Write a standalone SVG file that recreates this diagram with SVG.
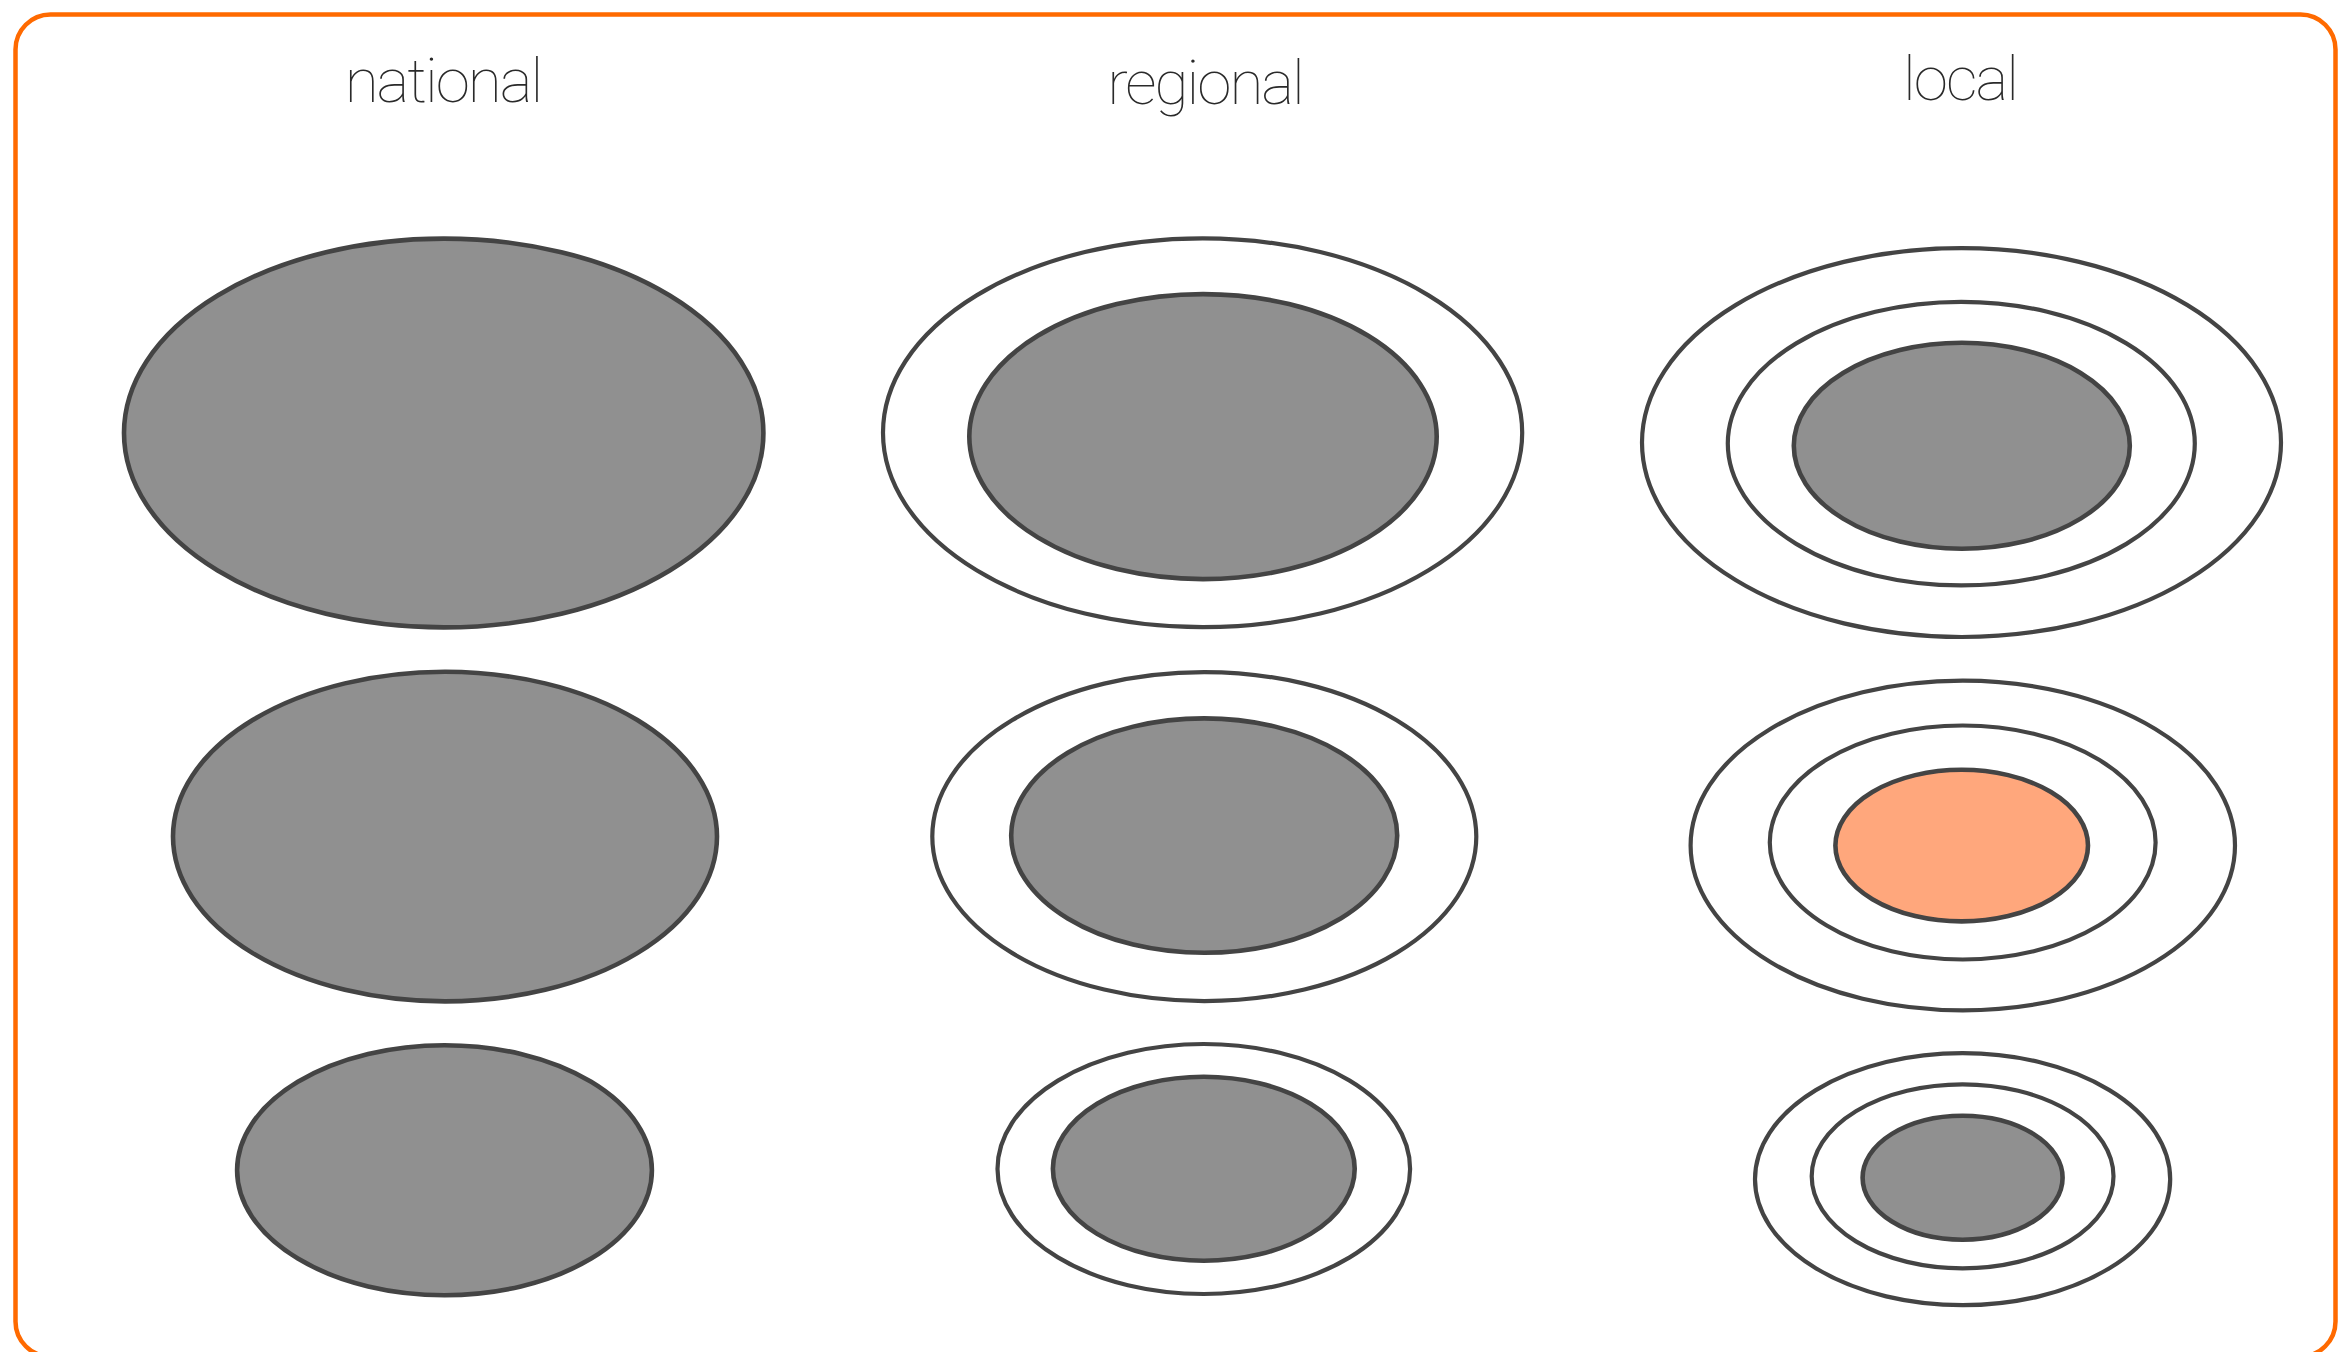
<svg xmlns="http://www.w3.org/2000/svg" width="2342" height="1352" viewBox="0 0 2342 1352">
  <style>
    .frame { fill: #ffffff; stroke: #FF6A00; stroke-width: 4.5; }
    .ring { fill: #ffffff; stroke: #444444; stroke-width: 4.2; }
    .core { fill: #909090; stroke: #444444; stroke-width: 4.6; }
    .hot { fill: #FFA77C; stroke: #444444; stroke-width: 4.6; }
    .title { font-family: "Roboto", "Liberation Sans", sans-serif; font-weight: 100; font-size: 62px; letter-spacing: -2px; fill: #2a2a2a; text-anchor: middle; }
  </style>
  <rect class="frame" x="15.5" y="14.5" width="2320" height="1342" rx="35" ry="35"/>

  <g id="labels">
    <text class="title" x="443" y="102">national</text>
    <text class="title" x="1205" y="104">regional</text>
    <text class="title" x="1960" y="100">local</text>
  </g>

  <g id="national-large">
    <ellipse class="core" cx="443.7" cy="433" rx="319.7" ry="194.4"/>
  </g>
  <g id="national-medium">
    <ellipse class="core" cx="445" cy="836.6" rx="272" ry="164.8"/>
  </g>
  <g id="national-small">
    <ellipse class="core" cx="444.5" cy="1170.2" rx="207.4" ry="125"/>
  </g>

  <g id="regional-large">
    <ellipse class="ring" cx="1202.6" cy="432.8" rx="319.6" ry="194.4"/>
    <ellipse class="core" cx="1203" cy="436.6" rx="233.7" ry="142.5"/>
  </g>
  <g id="regional-medium">
    <ellipse class="ring" cx="1204.3" cy="836.6" rx="272" ry="164.5"/>
    <ellipse class="core" cx="1204.2" cy="835.6" rx="193" ry="117.2"/>
  </g>
  <g id="regional-small">
    <ellipse class="ring" cx="1203.8" cy="1169" rx="206.3" ry="125"/>
    <ellipse class="core" cx="1203.8" cy="1168.8" rx="150.9" ry="92"/>
  </g>

  <g id="local-large">
    <ellipse class="ring" cx="1961.5" cy="442.6" rx="319.5" ry="194.4"/>
    <ellipse class="ring" cx="1961.3" cy="443.6" rx="233.5" ry="141.8"/>
    <ellipse class="core" cx="1961.8" cy="445.8" rx="168" ry="103"/>
  </g>
  <g id="local-medium">
    <ellipse class="ring" cx="1962.8" cy="845.5" rx="272.2" ry="164.8"/>
    <ellipse class="ring" cx="1962.7" cy="842.5" rx="192.9" ry="117"/>
    <ellipse class="hot" cx="1961.7" cy="845.6" rx="126.3" ry="75.8"/>
  </g>
  <g id="local-small">
    <ellipse class="ring" cx="1962.6" cy="1179.2" rx="207.6" ry="126"/>
    <ellipse class="ring" cx="1962.6" cy="1176.3" rx="150.9" ry="92"/>
    <ellipse class="core" cx="1962.6" cy="1177.7" rx="100" ry="62"/>
  </g>

  <g id="connectors"/>
</svg>
